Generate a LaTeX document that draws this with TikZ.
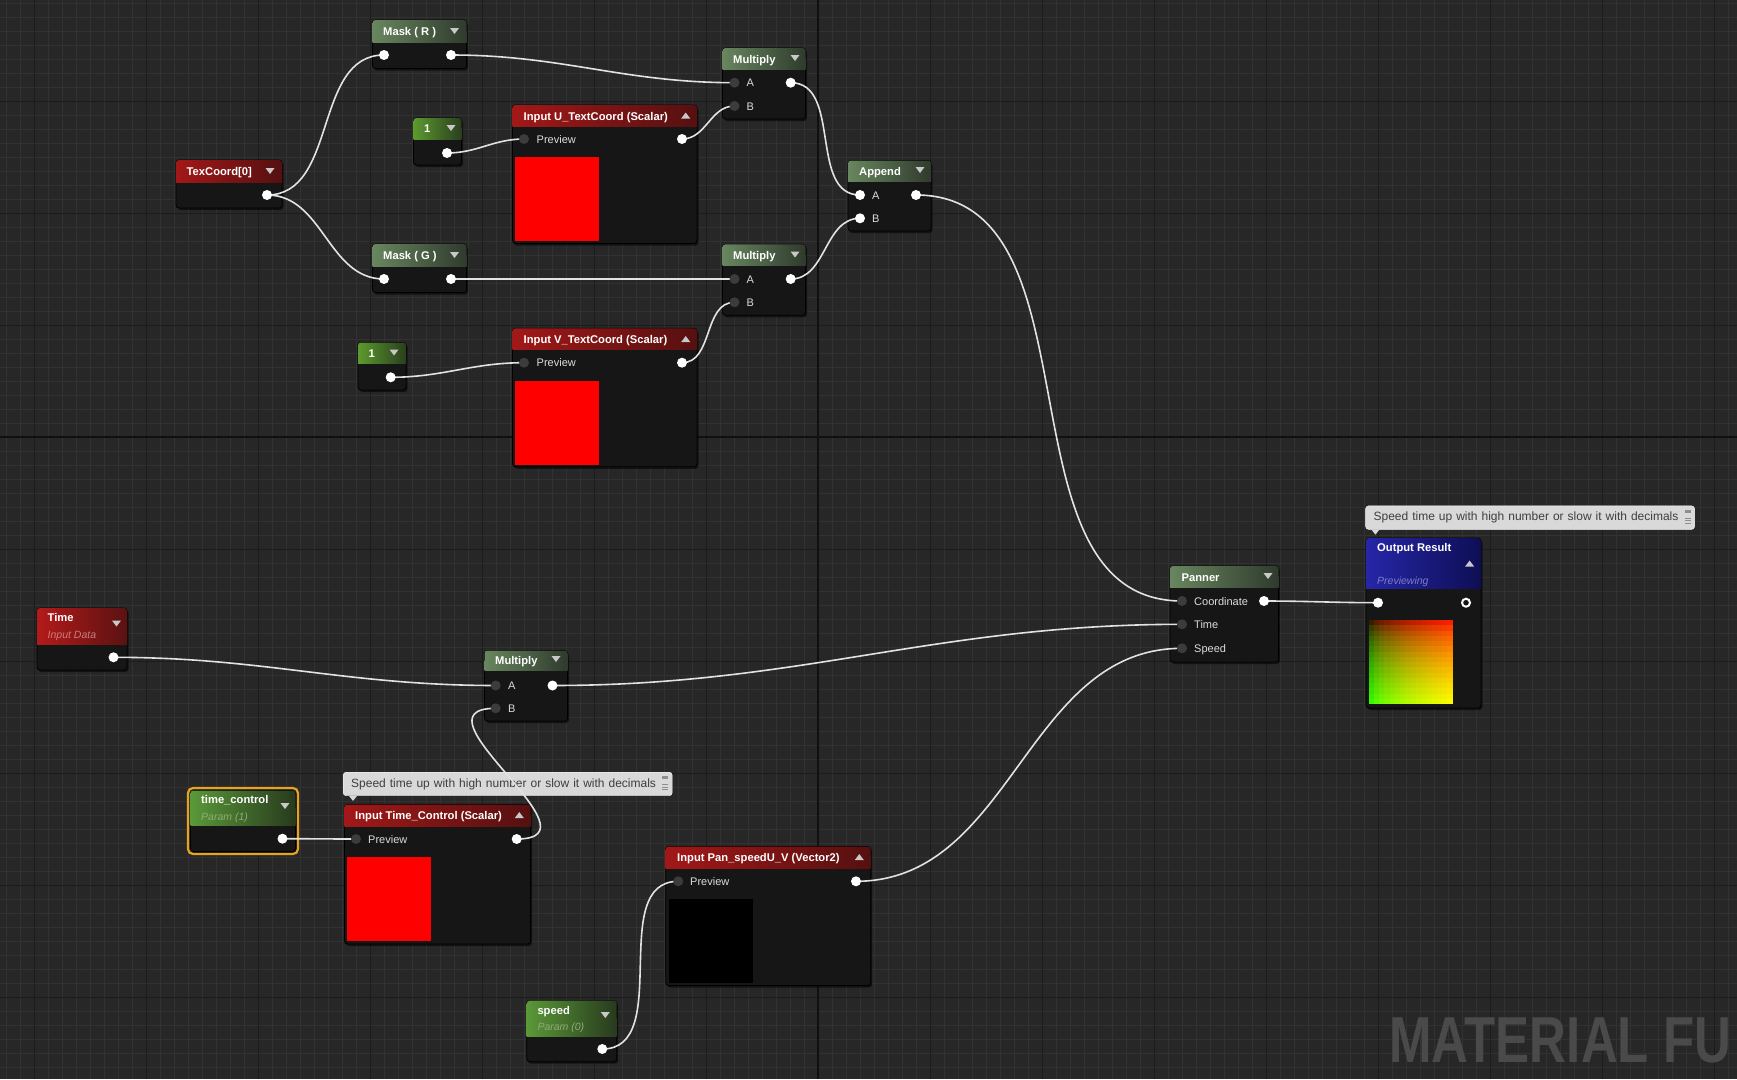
\documentclass[tikz,border=0pt]{standalone}
\usepackage{fontspec}
\setmainfont{Liberation Sans}
\usetikzlibrary{calc}
\usetikzlibrary{positioning, shadows}

\definecolor{bgc}{HTML}{272727}
\definecolor{minorc}{HTML}{323232}
\definecolor{majorc}{HTML}{1C1C1C}
\definecolor{originc}{HTML}{101010}
\definecolor{bodyc}{HTML}{161616}
\definecolor{wirec}{HTML}{E2E2E2}
\definecolor{pinoffc}{HTML}{3C3C3C}
\definecolor{labelc}{HTML}{DCDCDC}
\definecolor{tric}{HTML}{C8C8C8}
\definecolor{mathL}{HTML}{68865F}
\definecolor{mathR}{HTML}{2F3B2D}
\definecolor{constL}{HTML}{5C9A2E}
\definecolor{constR}{HTML}{2A3F1E}
\definecolor{paramL}{HTML}{5A9838}
\definecolor{paramR}{HTML}{283A1E}
\definecolor{inL}{HTML}{A21818}
\definecolor{inR}{HTML}{561010}
\definecolor{timeL}{HTML}{B41A1A}
\definecolor{timeR}{HTML}{5A1212}
\definecolor{outL}{HTML}{2626A8}
\definecolor{outR}{HTML}{0E0E55}
\definecolor{notec}{HTML}{D9D9D9}
\definecolor{notetxt}{HTML}{3E3E3E}
\definecolor{iconc}{HTML}{8E8E8E}
\definecolor{wmc}{HTML}{4A4A4A}
\definecolor{ringc}{HTML}{E8A21E}
\definecolor{timesub}{HTML}{CC7C7C}
\definecolor{paramsub}{HTML}{8FAA78}
\definecolor{outsub}{HTML}{7C7CC8}

\pgfdeclarelayer{grid}
\pgfdeclarelayer{wires}
\pgfdeclarelayer{front}
\pgfsetlayers{grid,main,wires,front}

\tikzset{
  uebody/.style={draw=black, fill=bodyc, rounded corners=3pt, inner sep=0pt, outer sep=0pt,
    anchor=north west, line width=0.8pt,
    drop shadow={shadow xshift=1.5pt, shadow yshift=-2pt, opacity=0.55, fill=black}},
  mathhd/.style={left color=mathL, right color=mathR},
  consthd/.style={left color=constL, right color=constR},
  paramhd/.style={left color=paramL, right color=paramR},
  inhd/.style={left color=inL, right color=inR},
  timehd/.style={left color=timeL, right color=timeR},
  outhd/.style={left color=outL, right color=outR},
  ttl/.style={text=white, font=\bfseries\fontsize{11.2}{13}\selectfont, inner sep=0pt,
    anchor=west, text height=8pt, text depth=0pt},
  subttl/.style={font=\itshape\fontsize{10.5}{12}\selectfont, inner sep=0pt,
    anchor=west, text height=8pt, text depth=0pt},
  lbl/.style={text=labelc, font=\fontsize{11}{13}\selectfont, inner sep=0pt,
    anchor=west, text height=8pt, text depth=0pt},
  pinon/.style={circle, fill=white, minimum size=10pt, inner sep=0pt},
  pinoff/.style={circle, fill=pinoffc, minimum size=10pt, inner sep=0pt},
  pinring/.style={circle, draw=white, line width=2pt, fill=bodyc, minimum size=8pt, inner sep=0pt},
  swatch/.style={inner sep=0pt, outer sep=0pt, anchor=north west},
  wire/.style={draw=wirec, line width=1.6pt, out=0, in=180},
  tri/.style={fill=tric},
  note/.style={fill=notec, draw=white!90!notec, rounded corners=3pt, anchor=north west,
    text=notetxt, font=\fontsize{12}{14}\selectfont, inner xsep=8pt, inner ysep=0pt,
    minimum height=23.5pt, text width=313pt, align=left},
}

% node frame: name, x, y, width, height, header height, header style
\newcommand{\uenode}[7]{%
  \node[uebody, minimum width=#4pt, minimum height=#5pt] (#1) at (#2,#3) {};
  \shade[#7, rounded corners=3pt] (#1.north west) rectangle ($(#1.north east)+(0,#6)$);
  \shade[#7] ($(#1.north west)+(0,#6/2)$) rectangle ($(#1.north east)+(0,#6)$);
}
\newcommand{\dropdown}[2]{\fill[tri] (#1,#2) ++(-4.5,-3) -- ++(9,0) -- ++(-4.5,6) -- cycle;}
\newcommand{\collapse}[2]{\fill[tri] (#1,#2) ++(-4.5,3) -- ++(9,0) -- ++(-4.5,-6) -- cycle;}
\newcommand{\noteicon}[2]{%
  \fill[iconc] (#1,#2) ++(-3,4) rectangle ++(6,3);
  \fill[iconc] (#1,#2) ++(-3,12) rectangle ++(6,1.2);
  \fill[iconc] (#1,#2) ++(-3,14.5) rectangle ++(6,1.2);
  \fill[iconc] (#1,#2) ++(-3,17) rectangle ++(6,1.2);
}

\begin{document}
\begin{tikzpicture}[x=1pt, y=-1pt]
  \useasboundingbox (0,0) rectangle (1737,1079);

  % Background grid
  \begin{pgfonlayer}{grid}
    \fill[bgc] (0,0) rectangle (1737,1079);
    \foreach \gx in {6,20,...,1737} \draw[minorc, line width=0.8pt] (\gx,0) -- (\gx,1079);
    \foreach \gy in {3,17,...,1079} \draw[minorc, line width=0.8pt] (0,\gy) -- (1737,\gy);
    \foreach \gx in {34,146,...,1737} \draw[majorc, line width=1pt] (\gx,0) -- (\gx,1079);
    \foreach \gy in {101,213,...,1079} \draw[majorc, line width=1pt] (0,\gy) -- (1737,\gy);
    \draw[originc, line width=1.6pt] (818,0) -- (818,1079);
    \draw[originc, line width=1.6pt] (0,437) -- (1737,437);
  \end{pgfonlayer}

  % Define nodes
  \uenode{texc}{176}{160}{106}{48}{22}{inhd}
  \node[ttl] (texc-t) at (186.5,171) {TexCoord[0]};
  \dropdown{270}{171}

  \uenode{maskr}{372.5}{20}{94}{48.5}{22}{mathhd}
  \node[ttl] (maskr-t) at (383,31) {Mask ( R )};
  \dropdown{454.5}{31}

  \uenode{maskg}{372.5}{244}{94}{48.5}{22}{mathhd}
  \node[ttl] (maskg-t) at (383,255) {Mask ( G )};
  \dropdown{454.5}{255}

  \uenode{cu}{413.5}{118}{48}{47}{21}{consthd}
  \node[ttl] (cu-t) at (424,128.5) {1};
  \dropdown{451}{128}

  \uenode{cv}{358}{342.5}{48}{47.5}{21}{consthd}
  \node[ttl] (cv-t) at (368.5,353) {1};
  \dropdown{394}{352.5}

  \uenode{inu}{512.5}{105}{184.5}{138.5}{21.5}{inhd}
  \node[ttl] (inu-t) at (523.5,116) {Input U\_TextCoord (Scalar)};
  \collapse{685.7}{115.5}
  \node[lbl] (inu-l) at (536.5,139) {Preview};
  \node[swatch, fill=red, minimum width=84pt, minimum height=84pt] (inu-sw) at (515,157) {};

  \uenode{inv}{512.5}{328.3}{184.5}{138.5}{21.5}{inhd}
  \node[ttl] (inv-t) at (523.5,339) {Input V\_TextCoord (Scalar)};
  \collapse{685.7}{339}
  \node[lbl] (inv-l) at (536.5,362.7) {Preview};
  \node[swatch, fill=red, minimum width=84pt, minimum height=84pt] (inv-sw) at (515,381) {};

  \uenode{mula}{722.5}{48}{83}{71}{21.5}{mathhd}
  \node[ttl] (mula-t) at (733,59) {Multiply};
  \dropdown{795}{58}
  \node[lbl] (mula-la) at (746.5,82.7) {A};
  \node[lbl] (mula-lb) at (746.5,106) {B};

  \uenode{mulb}{722.5}{244.3}{83}{71}{21.5}{mathhd}
  \node[ttl] (mulb-t) at (733,255.5) {Multiply};
  \dropdown{795}{254.5}
  \node[lbl] (mulb-la) at (746.5,279) {A};
  \node[lbl] (mulb-lb) at (746.5,302.3) {B};

  \uenode{app}{848}{160.5}{83}{70.5}{21}{mathhd}
  \node[ttl] (app-t) at (859,171.5) {Append};
  \dropdown{920}{170}
  \node[lbl] (app-la) at (872,195) {A};
  \node[lbl] (app-lb) at (872,218.3) {B};

  \uenode{time}{37}{608}{90}{62}{36}{timehd}
  \node[ttl] (time-t) at (47.5,617.5) {Time};
  \node[subttl, text=timesub] (time-s) at (47.5,634) {Input Data};
  \dropdown{116.5}{623.5}

  \uenode{mulc}{484.5}{650.5}{83}{70.5}{20}{mathhd}
  \node[ttl] (mulc-t) at (495,660.7) {Multiply};
  \dropdown{556}{659}
  \node[lbl] (mulc-la) at (508,685.5) {A};
  \node[lbl] (mulc-lb) at (508,708.3) {B};

  \uenode{tctrl}{190.5}{790.5}{105}{61}{35}{paramhd}
  \draw[ringc, line width=2.2pt, rounded corners=5pt]
    ($(tctrl.north west)+(-2.5,-2.5)$) rectangle ($(tctrl.south east)+(2.5,2.5)$);
  \node[ttl] (tctrl-t) at (201,799.5) {time\_control};
  \node[subttl, text=paramsub] (tctrl-s) at (201,816) {Param (1)};
  \dropdown{285}{806}

  \node[note] (note1) at (343,772) {Speed time up with high number or slow it with decimals};
  \fill[notec] ([xshift=6pt]note1.south west) -- ++(8,0) -- ++(-4,5) -- cycle;
  \noteicon{665}{772}

  \uenode{intc}{344.5}{804.5}{186}{139.5}{21.5}{inhd}
  \node[ttl] (intc-t) at (355,815.5) {Input Time\_Control (Scalar)};
  \collapse{519.3}{815}
  \node[lbl] (intc-l) at (368,839) {Preview};
  \node[swatch, fill=red, minimum width=84.5pt, minimum height=84.5pt] (intc-sw) at (346.7,856.7) {};

  \uenode{inpan}{665.7}{846.5}{205}{139}{22}{inhd}
  \node[ttl] (inpan-t) at (677,857.5) {Input Pan\_speedU\_V (Vector2)};
  \collapse{859.3}{857}
  \node[lbl] (inpan-l) at (690,881.3) {Preview};
  \node[swatch, fill=black, minimum width=83.5pt, minimum height=83.5pt] (inpan-sw) at (669,899) {};

  \uenode{spd}{526.7}{1000.7}{90}{61}{36}{paramhd}
  \node[ttl] (spd-t) at (537.3,1010) {speed};
  \node[subttl, text=paramsub] (spd-s) at (537.3,1026) {Param (0)};
  \dropdown{605.3}{1015}

  \uenode{pan}{1170}{566}{108.5}{96}{21}{mathhd}
  \node[ttl] (pan-t) at (1181.4,577) {Panner};
  \dropdown{1268}{576}
  \node[lbl] (pan-lc) at (1194,601) {Coordinate};
  \node[lbl] (pan-lt) at (1194,624.3) {Time};
  \node[lbl] (pan-ls) at (1194,648.3) {Speed};

  \node[note] (note2) at (1365.4,505.7) {Speed time up with high number or slow it with decimals};
  \fill[notec] ([xshift=6pt]note2.south west) -- ++(8,0) -- ++(-4,5) -- cycle;
  \noteicon{1687.5}{505.7}

  \uenode{outr}{1366}{538}{115}{170}{50}{outhd}
  \node[ttl] (outr-t) at (1377,547.5) {Output Result};
  \collapse{1469.6}{563.5}
  \node[subttl, text=outsub] (outr-s) at (1377,580) {Previewing};
  \foreach \i in {0,...,15} {
    \foreach \j in {0,...,15} {
      \pgfmathtruncatemacro{\redv}{100*((\i+0.5)/16)^0.45}
      \pgfmathtruncatemacro{\grnv}{100*((\j+0.5)/16)^0.6}
      \fill[fill={rgb,100:red,\redv;green,\grnv;blue,0}]
        (1368.6+\i*5.25,620+\j*5.25) rectangle ++(5.7,5.7);
    }
  }

  \node[anchor=base west, inner sep=0pt, text=wmc, font=\bfseries\fontsize{65}{65}\selectfont]
    (wmark) at (1389,1062) {\scalebox{0.785}[1]{MATERIAL FU}};

  % Pins
  \begin{pgfonlayer}{front}
    \node[pinon] (texc-out) at (267,195) {};
    \node[pinon] (maskr-in) at (384,55) {};
    \node[pinon] (maskr-out) at (451,55) {};
    \node[pinon] (maskg-in) at (384,279) {};
    \node[pinon] (maskg-out) at (451,279) {};
    \node[pinon] (cu-out) at (447,153) {};
    \node[pinon] (cv-out) at (390.7,377.3) {};
    \node[pinoff] (inu-in) at (524,139) {};
    \node[pinon] (inu-out) at (682,139) {};
    \node[pinoff] (inv-in) at (524,362.7) {};
    \node[pinon] (inv-out) at (682,362.7) {};
    \node[pinoff] (mula-a) at (734.5,82.7) {};
    \node[pinoff] (mula-b) at (734.5,106) {};
    \node[pinon] (mula-out) at (790.7,82.7) {};
    \node[pinoff] (mulb-a) at (734.5,279) {};
    \node[pinoff] (mulb-b) at (734.5,302.3) {};
    \node[pinon] (mulb-out) at (790.7,279) {};
    \node[pinon] (app-a) at (860,195) {};
    \node[pinon] (app-b) at (860,218.3) {};
    \node[pinon] (app-out) at (916,195) {};
    \node[pinon] (time-out) at (113.5,657.3) {};
    \node[pinoff] (mulc-a) at (495.7,685.5) {};
    \node[pinoff] (mulc-b) at (495.7,708.3) {};
    \node[pinon] (mulc-out) at (552.5,685.5) {};
    \node[pinon] (tctrl-out) at (282.5,838.7) {};
    \node[pinoff] (intc-in) at (356,839) {};
    \node[pinon] (intc-out) at (516.7,839) {};
    \node[pinoff] (inpan-in) at (678.3,881.3) {};
    \node[pinon] (inpan-out) at (856,881.3) {};
    \node[pinon] (spd-out) at (602.3,1049) {};
    \node[pinoff] (pan-coord) at (1182,601) {};
    \node[pinoff] (pan-time) at (1182,624.3) {};
    \node[pinoff] (pan-speed) at (1182,648.3) {};
    \node[pinon] (pan-out) at (1264,601) {};
    \node[pinon] (outr-in) at (1378,602.7) {};
    \node[pinring] (outr-res) at (1466,602.7) {};
  \end{pgfonlayer}

  % Draw wires
  \begin{pgfonlayer}{wires}
    \draw[wire] (texc-out.center) to (maskr-in.center);
    \draw[wire] (texc-out.center) to (maskg-in.center);
    \draw[wire] (maskr-out.center) to (mula-a.center);
    \draw[wire] (cu-out.center) to (inu-in.center);
    \draw[wire] (inu-out.center) to (mula-b.center);
    \draw[wire] (maskg-out.center) to (mulb-a.center);
    \draw[wire] (cv-out.center) to (inv-in.center);
    \draw[wire] (inv-out.center) to (mulb-b.center);
    \draw[wire] (mula-out.center) to (app-a.center);
    \draw[wire] (mulb-out.center) to (app-b.center);
    \draw[wire] (app-out.center) to (pan-coord.center);
    \draw[wire] (time-out.center) to (mulc-a.center);
    \draw[wire] (tctrl-out.center) to (intc-in.center);
    \draw[wirec, line width=1.6pt] (intc-out.center) .. controls +(90,0) and +(-90,0) .. (mulc-b.center);
    \draw[wire] (mulc-out.center) to (pan-time.center);
    \draw[wire] (spd-out.center) to (inpan-in.center);
    \draw[wire] (inpan-out.center) to (pan-speed.center);
    \draw[wire] (pan-out.center) to (outr-in.center);
  \end{pgfonlayer}
\end{tikzpicture}
\end{document}
